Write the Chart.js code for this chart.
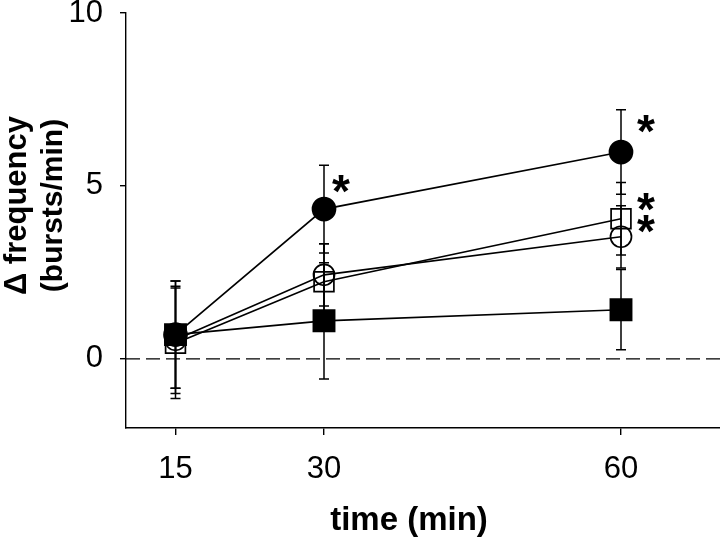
<!DOCTYPE html>
<html>
<head>
<meta charset="utf-8">
<script src="https://cdn.jsdelivr.net/npm/chart.js@4"></script>
<style>
html,body{margin:0;padding:0;background:#fff;}
#wrap{width:720px;height:540px;position:relative;}
</style>
</head>
<body>
<div id="wrap"><canvas id="c" width="720" height="540"></canvas></div>
<script>
// ---- data ----
const times = [15, 30, 60];
const xTicks = [15, 30, 60];
const yTicks = [0, 5, 10];

const filledCircle = [0.70, 4.33, 5.98];
const filledCircleErr = [1.55, 1.27, 1.22];

const openSquare = [0.45, 2.23, 4.05];
const openSquareErr = [1.60, 1.10, 1.05];

const openCircle = [0.55, 2.43, 3.53];
const openCircleErr = [1.55, 0.90, 0.90];

const filledSquare = [0.70, 1.10, 1.42];
const filledSquareErr = [1.55, 1.68, 1.16];

// significance marks: [dataset index, point index]
const sigMarks = [[0, 1], [0, 2], [1, 2], [2, 2]];

const xTitle = 'time (min)';
const yTitle = ['\u0394 frequency', '(bursts/min)'];

const FONT = "'Liberation Sans', Arial, sans-serif";

function pts(vals) { return times.map((t, i) => ({x: t, y: vals[i]})); }

const series = [
  {label: 'filled circle', vals: filledCircle, err: filledCircleErr, style: 'circle', r: 11.5, fill: '#000'},
  {label: 'open square', vals: openSquare, err: openSquareErr, style: 'rect', r: 14, fill: 'rgba(0,0,0,0)'},
  {label: 'open circle', vals: openCircle, err: openCircleErr, style: 'circle', r: 10.5, fill: 'rgba(0,0,0,0)'},
  {label: 'filled square', vals: filledSquare, err: filledSquareErr, style: 'rect', r: 15, fill: '#000'}
];

const extras = {
  id: 'extras',
  beforeDatasetsDraw(chart) {
    const {ctx, scales: {x, y}} = chart;
    ctx.save();
    ctx.strokeStyle = '#000';
    ctx.lineWidth = 1.5;
    series.forEach(s => {
      times.forEach((t, i) => {
        const px = x.getPixelForValue(t);
        const top = y.getPixelForValue(s.vals[i] + s.err[i]);
        const bot = y.getPixelForValue(s.vals[i] - s.err[i]);
        ctx.beginPath();
        ctx.moveTo(px, top); ctx.lineTo(px, bot);
        ctx.moveTo(px - 5, top); ctx.lineTo(px + 5, top);
        ctx.moveTo(px - 5, bot); ctx.lineTo(px + 5, bot);
        ctx.stroke();
      });
    });
    // dashed zero line
    const y0 = y.getPixelForValue(0);
    ctx.setLineDash([14, 6]);
    ctx.lineWidth = 1.4;
    ctx.beginPath();
    ctx.moveTo(chart.chartArea.left, y0);
    ctx.lineTo(chart.chartArea.right, y0);
    ctx.stroke();
    ctx.restore();
  },
  afterDatasetsDraw(chart) {
    const {ctx, scales: {x, y}} = chart;
    const offsets = [[17, -27], [25, -30], [25, -19], [25, -15]];
    ctx.save();
    ctx.fillStyle = '#000';
    ctx.font = 'bold 46px ' + FONT;
    ctx.textAlign = 'center';
    ctx.textBaseline = 'alphabetic';
    sigMarks.forEach((m, k) => {
      const s = series[m[0]];
      const px = x.getPixelForValue(times[m[1]]) + offsets[k][0];
      const py = y.getPixelForValue(s.vals[m[1]]) + offsets[k][1];
      ctx.fillText('*', px, py + 25);
    });
    ctx.restore();
  },
  afterDraw(chart) {
    const {ctx, chartArea} = chart;
    ctx.save();
    ctx.fillStyle = '#000';
    ctx.textAlign = 'center';
    ctx.textBaseline = 'alphabetic';
    // x axis title
    ctx.font = 'bold 33px ' + FONT;
    ctx.fillText(xTitle, (chartArea.left + chartArea.right) / 2 - 14, 530);
    // y axis title (two lines, rotated)
    const cy = (chartArea.top + chartArea.bottom) / 2 - 15;
    ctx.translate(0, cy);
    ctx.rotate(-Math.PI / 2);
    ctx.font = 'bold 31px ' + FONT;
    ctx.fillText(yTitle[0], 0, 26);
    ctx.font = 'bold 30px ' + FONT;
    ctx.fillText(yTitle[1], 0, 62);
    ctx.restore();
  }
};

new Chart(document.getElementById('c'), {
  type: 'line',
  data: {
    datasets: series.map(s => ({
      label: s.label,
      data: pts(s.vals),
      borderColor: '#000',
      borderWidth: 1.7,
      pointStyle: s.style,
      pointRadius: s.r,
      pointHoverRadius: s.r,
      pointBackgroundColor: s.fill,
      pointBorderColor: '#000',
      pointBorderWidth: 1.7,
      tension: 0,
      fill: false,
      clip: false
    }))
  },
  options: {
    responsive: false,
    animation: false,
    devicePixelRatio: 1,
    layout: {autoPadding: false, padding: {top: 13, right: 0, left: 0, bottom: 0}},
    plugins: {legend: {display: false}, tooltip: {enabled: false}},
    scales: {
      x: {
        type: 'linear', min: 10, max: 70,
        afterBuildTicks(s) { s.ticks = xTicks.map(v => ({value: v})); },
        afterFit(s) { s.height = 112; s.paddingLeft = 0; s.paddingRight = 0; },
        grid: {drawOnChartArea: false, drawTicks: true, tickLength: 7, color: '#000', lineWidth: 1.4},
        border: {display: true, color: '#000', width: 1.4},
        ticks: {color: '#000', font: {family: FONT, size: 31}, padding: 16, maxRotation: 0},
        title: {display: false}
      },
      y: {
        type: 'linear', min: -2, max: 10,
        afterBuildTicks(s) { s.ticks = yTicks.map(v => ({value: v})); },
        afterFit(s) { s.width = 126; s.paddingTop = 0; s.paddingBottom = 0; },
        grid: {drawOnChartArea: false, drawTicks: true, tickLength: 6, color: '#000', lineWidth: 1.4},
        border: {display: true, color: '#000', width: 1.4},
        ticks: {color: '#000', font: {family: FONT, size: 31}, padding: 17},
        title: {display: false}
      }
    }
  },
  plugins: [extras]
});
</script>
</body>
</html>
